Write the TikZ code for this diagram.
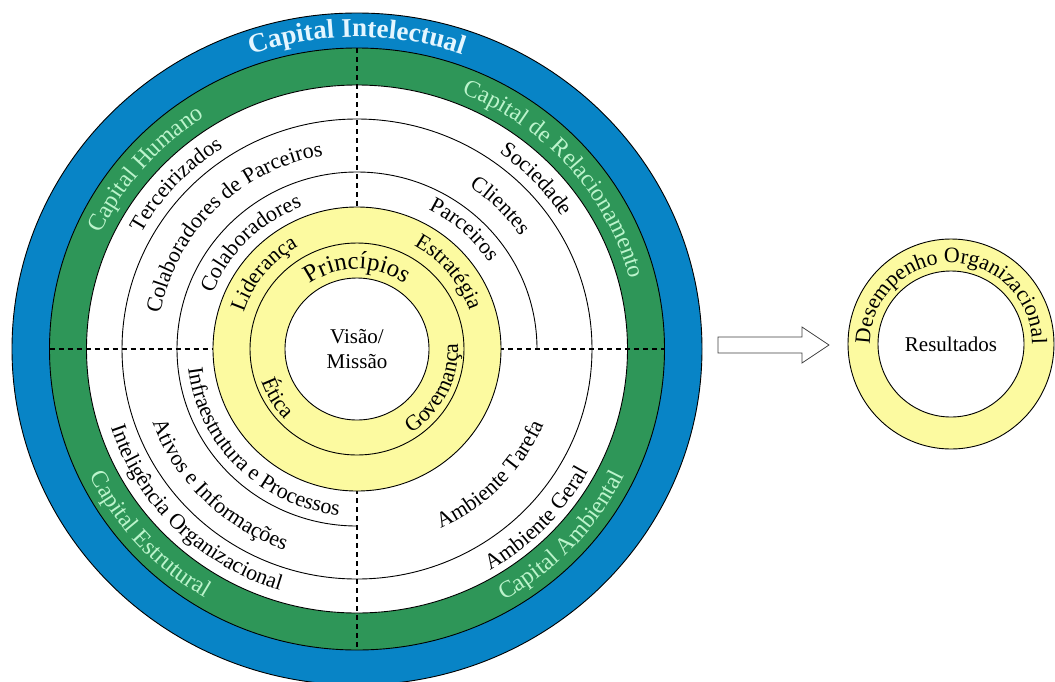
\documentclass[tikz,border=0pt]{standalone}
\usepackage{fontspec}
\setmainfont{Liberation Serif}
\usetikzlibrary{decorations.text}
\definecolor{capblue}{RGB}{8,132,198}
\definecolor{capgreen}{RGB}{46,150,88}
\definecolor{capyellow}{RGB}{252,250,160}
\definecolor{greentext}{RGB}{188,244,204}
\definecolor{bluetext}{RGB}{228,246,255}
\tikzset{
  ringline/.style = {draw=black, line width=0.9pt},
  quadline/.style = {dash pattern=on 5pt off 4pt, line width=1.1pt},
  blockarrow/.style = {draw=black!75, fill=white, line width=0.8pt},
  midtext/.style = {font=\fontsize{21}{25}\selectfont, align=center, inner sep=0pt},
}

\begin{document}
\begin{tikzpicture}[x=1pt, y=1pt]
\useasboundingbox (0,0) rectangle (1055,-681);

% capital rings
\begin{scope}[shift={(357,-349)}]
  \filldraw[fill=capblue, ringline] (0,0) ellipse [x radius=345, y radius=336];
  \filldraw[fill=capgreen, ringline] (0,0) ellipse [x radius=307.5, y radius=301];
  \filldraw[fill=white, ringline] (0,0) ellipse [x radius=270.5, y radius=264];

  % quadrant separators
  \draw[quadline] (0,301) -- (0,140);
  \draw[quadline] (0,-140) -- (0,-301);
  \draw[quadline] (-307.5,0) -- (-142,0);
  \draw[quadline] (142,0) -- (307.5,0);

  \draw[ringline] (0,0) ellipse [x radius=235, y radius=230];
  \draw[ringline] (180,0) arc [start angle=0, end angle=270, x radius=180, y radius=177];

  % core
  \filldraw[fill=capyellow, ringline] (0,0) ellipse [x radius=144, y radius=142];
  \draw[ringline] (0,0) ellipse [x radius=107, y radius=106];
  \filldraw[fill=white, ringline] (0,0) ellipse [x radius=72, y radius=71];
  \node (visao) [midtext] at (0,0) {Visão/\\Missão};

  % labels read clockwise, letters facing out
  \begin{scope}
    \fontsize{27}{30}\selectfont\bfseries
    \path[decorate, decoration={text along path, text align=center, text color=bluetext, text={Capital Intelectual}}]
      ({320*cos(160)}, {312*sin(160)}) arc [start angle=160, end angle=20, x radius=320, y radius=312];
  \end{scope}
  \begin{scope}
    \fontsize{24}{27}\selectfont
    \foreach \a/\rx/\ry/\txt in {139.5/282/275/Capital Humano, 41/282/275/Capital de Relacionamento}
      \path[decorate, decoration={text along path, text align=center, text color=greentext, text/.expanded=\txt}]
        ({\rx*cos(\a+70)}, {\ry*sin(\a+70)}) arc [start angle=\a+70, end angle=\a-70, x radius=\rx, y radius=\ry];
    \foreach \a/\rx/\ry/\txt in {222/297/290/Capital Estrutural, 317.5/297/290/Capital Ambiental}
      \path[decorate, decoration={text along path, text align=center, text color=greentext, text/.expanded=\txt}]
        ({\rx*cos(\a-70)}, {\ry*sin(\a-70)}) arc [start angle=\a-70, end angle=\a+70, x radius=\rx, y radius=\ry];
  \end{scope}
  \begin{scope}
    \fontsize{22}{25}\selectfont
    \foreach \a/\rx/\ry/\txt in {137.6/246/240/Terceirizados, 135/200/196/Colaboradores de Parceiros,
        135/155/152/Colaboradores, 43.5/246/240/Sociedade, 45/200/196/Clientes, 48/159/156/Parceiros,
        141/119/118/Liderança, 40/119/118/Estratégia}
      \path[decorate, decoration={text along path, text align=center, text/.expanded=\txt}]
        ({\rx*cos(\a+70)}, {\ry*sin(\a+70)}) arc [start angle=\a+70, end angle=\a-70, x radius=\rx, y radius=\ry];
    % labels read counter-clockwise, letters facing in
    \foreach \a/\rx/\ry/\txt in {225/259/253/Inteligência Organizacional, 225/218/213/Ativos e Informações,
        225/170/167/Infraestrutura e Processos, -43.5/263/257/Ambiente Geral, -43.5/202/197/Ambiente Tarefa,
        211.6/101/100/Ética, -27/101/100/Governança}
      \path[decorate, decoration={text along path, text align=center, text/.expanded=\txt}]
        ({\rx*cos(\a-70)}, {\ry*sin(\a-70)}) arc [start angle=\a-70, end angle=\a+70, x radius=\rx, y radius=\ry];
  \end{scope}
  \begin{scope}
    \fontsize{25}{28}\selectfont
    \path[decorate, decoration={text along path, text align=center, text={Princípios}}]
      ({81*cos(160)}, {80*sin(160)}) arc [start angle=160, end angle=20, x radius=81, y radius=80];
  \end{scope}
\end{scope}

\draw[blockarrow] (718,-337) -- (802,-337) -- (802,-327) -- (829,-345)
  -- (802,-363) -- (802,-353) -- (718,-353) -- cycle;

% outcome ring
\begin{scope}[shift={(951,-344)}]
  \filldraw[fill=capyellow, ringline] (0,0) ellipse [x radius=103, y radius=105];
  \filldraw[fill=white, ringline] (0,0) circle [radius=73];
  \node (result) [midtext] at (0,0) {Resultados};
  \begin{scope}
    \fontsize{22}{25}\selectfont
    \path[decorate, decoration={text along path, text align=center, text={Desempenho Organizacional}}]
      ({81*cos(190)}, {81*sin(190)}) arc [start angle=190, end angle=-10, radius=81];
  \end{scope}
\end{scope}
\end{tikzpicture}
\end{document}
